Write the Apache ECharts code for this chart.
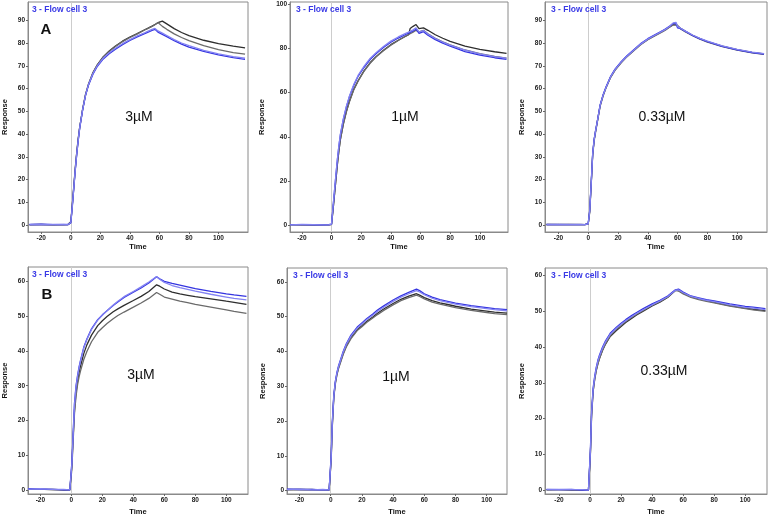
<!DOCTYPE html>
<html>
<head>
<meta charset="utf-8">
<script src="https://cdn.jsdelivr.net/npm/echarts@6/dist/echarts.min.js"></script>
<style>
  html, body { margin: 0; padding: 0; background: #fff; }
  #chart { width: 769px; height: 517px; }
</style>
</head>
<body>
<div id="chart"></div>
<script>
// time points (s) for each row of sensorgrams
const tTop = [-28, -20, -12, -5, -2, 0, 1, 2, 3, 4, 5, 6, 8, 10, 12, 15, 18, 22, 26, 30, 35, 40, 45, 50, 52, 53, 55, 57, 58, 59, 60, 62, 63, 65, 70, 75, 80, 90, 100, 110, 118];
const tBot = [-28, -20, -12, -5, -1, 0, 0.3, 1, 2, 3, 4, 5, 6, 8, 10, 13, 17, 20, 23, 27, 30, 34, 40, 45, 50, 55, 57, 60, 65, 70, 75, 80, 90, 100, 105, 113];

// tick labels
const xTicks = [-20, 0, 20, 40, 60, 80, 100];
const yTicks90 = [0, 10, 20, 30, 40, 50, 60, 70, 80, 90];
const yTicks100 = [0, 20, 40, 60, 80, 100];
const yTicks60 = [0, 10, 20, 30, 40, 50, 60];

// A, 3uM
const a1k1 = [0.2, 0.3, 0.1, 0.2, 0.3, 1.5, 9, 17, 25, 32, 38, 43, 51, 57.5, 62, 67, 70.5, 74, 76.5, 78.6, 80.8, 82.6, 84.1, 85.8, 86.4, 86.7, 87.4, 88.1, 88.5, 88.9, 89.2, 89.6, 89.5, 88.4, 86.3, 84.6, 83.2, 81.2, 79.7, 78.6, 77.9];
const a1k2 = [0.1, 0.2, 0.2, 0.1, 0.2, 1.2, 8.5, 16.5, 24.5, 31.5, 37.5, 42.8, 50.8, 57.3, 61.8, 66.8, 70.3, 73.8, 76.3, 78.4, 80.6, 82.4, 84, 85.7, 86.3, 86.6, 87.3, 88, 88.4, 89, 88.2, 87.3, 86.9, 86, 84, 82.4, 81, 78.8, 77.1, 75.8, 75.1];
const a1b1 = [0.3, 0.4, 0.2, 0.3, 0.2, 1, 8, 16, 24, 31, 37, 42.5, 50.5, 57, 61.5, 66.3, 69.8, 73, 75.3, 77.2, 79.3, 81.1, 82.7, 84.1, 84.7, 85, 85.5, 86, 86.2, 84.8, 84.2, 83.8, 83.5, 82.8, 81, 79.5, 78.2, 76.3, 74.8, 73.6, 72.8];
const a1b2 = [0.2, 0.3, 0.3, 0.2, 0.3, 1.2, 8.3, 16.3, 24.3, 31.3, 37.3, 42.7, 50.7, 57.2, 61.8, 66.6, 70.1, 73.4, 75.7, 77.6, 79.7, 81.5, 83.1, 84.5, 85.1, 85.4, 86, 86.4, 86.7, 85.3, 84.8, 84.3, 84, 83.3, 81.5, 80, 78.8, 76.8, 75.2, 74, 73.3];

// A, 1uM
const a2k1 = [0.3, 0.2, 0.3, 0.2, 0.2, 0.5, 7, 14, 21, 28, 34, 39, 46, 51.5, 56, 61.5, 65.5, 70, 73.5, 76.3, 79.2, 81.7, 83.7, 85.5, 86.2, 89, 90, 90.8, 91.2, 89, 88.3, 89.3, 89.2, 88.2, 86.2, 84.6, 83.2, 81, 79.6, 78.5, 77.8];
const a2k2 = [0.2, 0.3, 0.2, 0.3, 0.1, 0.4, 6.8, 13.8, 20.8, 27.8, 33.8, 38.8, 45.8, 51.3, 55.8, 61.3, 65.3, 69.8, 73.3, 76.1, 79, 81.5, 83.6, 85.6, 86.3, 86.6, 87.4, 88.2, 88.6, 87.5, 86.8, 88.2, 87.8, 86.6, 84.6, 83, 81.6, 79.3, 77.6, 76.4, 75.6];
const a2b1 = [0.3, 0.3, 0.2, 0.2, 0.3, 0.5, 8, 15.5, 23, 30, 36, 41, 48, 53.5, 58, 63.3, 67.5, 71.5, 75, 77.6, 80.4, 82.8, 84.7, 86.3, 86.9, 87.2, 87.9, 88.7, 89.2, 86.8, 86.4, 87.6, 87.3, 86, 84, 82.4, 81, 78.6, 77, 75.8, 75.1];
const a2b2 = [0.2, 0.4, 0.3, 0.2, 0.2, 0.6, 8.3, 15.8, 23.3, 30.3, 36.3, 41.3, 48.3, 53.8, 58.3, 63.7, 67.9, 72, 75.5, 78.1, 80.9, 83.3, 85.2, 86.8, 87.4, 87.7, 88.4, 89.3, 89.8, 87.5, 87, 88.1, 87.8, 86.5, 84.5, 82.9, 81.5, 79.2, 77.5, 76.3, 75.6];

// A, 0.33uM
const a3k1 = [0.3, 0.2, 0.3, 0.2, 0.3, 0.6, 6, 18, 31, 37.5, 41.5, 45, 52.5, 57, 60.5, 65, 68.2, 71.4, 74.1, 76.4, 79.3, 81.6, 83.4, 85.2, 85.9, 86.3, 87.3, 88.1, 88.6, 88.2, 87.4, 86.4, 86, 85.2, 83.4, 81.9, 80.6, 78.6, 77.1, 75.9, 75.2];
const a3k2 = [0.2, 0.3, 0.2, 0.3, 0.2, 0.5, 5.5, 17.5, 30.5, 37, 41, 44.8, 52.2, 56.7, 60.3, 64.8, 68, 71.2, 74, 76.3, 79.1, 81.4, 83.2, 85, 85.7, 86.1, 87.1, 87.9, 88.3, 88, 87.2, 86.2, 85.8, 85, 83.2, 81.7, 80.4, 78.4, 76.9, 75.7, 75];
const a3b1 = [0.3, 0.3, 0.2, 0.2, 0.3, 0.7, 6.5, 18.5, 31.5, 37.8, 41.7, 45.3, 52.8, 57.3, 60.8, 65.3, 68.5, 71.7, 74.4, 76.7, 79.6, 81.9, 83.7, 85.5, 86.2, 86.6, 87.6, 88.6, 89.3, 88.4, 86.6, 86.3, 85.9, 85.2, 83.3, 81.8, 80.6, 78.5, 77, 75.8, 75.1];
const a3b2 = [0.2, 0.2, 0.3, 0.3, 0.2, 0.6, 6.2, 18.2, 31.2, 37.6, 41.6, 45.1, 52.6, 57.1, 60.6, 65.1, 68.3, 71.5, 74.2, 76.5, 79.4, 81.7, 83.5, 85.3, 86, 86.4, 87.5, 88.8, 89.6, 89, 87.2, 86.5, 86, 85.3, 83.5, 82, 80.8, 78.7, 77.2, 76, 75.3];

// B, 3uM
const b1k1 = [0.4, 0.3, 0.3, 0.2, 0.1, 0, 7, 14, 23, 28, 31.3, 33.8, 35.8, 39.2, 41.7, 44.5, 47.2, 48.6, 49.8, 51.2, 52, 53, 54.4, 55.6, 57, 58.9, 58.5, 57.7, 56.8, 56.3, 55.9, 55.5, 54.9, 54.2, 53.9, 53.3];
const b1k2 = [0.3, 0.4, 0.2, 0.2, 0.2, 0, 6, 13, 22, 27, 30.3, 32.6, 34.4, 37.5, 39.8, 42.6, 45.3, 46.6, 47.8, 49.2, 50.1, 51.1, 52.5, 53.7, 55, 56.7, 56.2, 55.4, 54.8, 54.2, 53.8, 53.3, 52.5, 51.7, 51.3, 50.7];
const b1b1 = [0.5, 0.4, 0.3, 0.2, 0.2, 0.2, 8, 15, 25, 30, 33, 35.5, 37.5, 41, 43.4, 46.3, 48.9, 50.3, 51.5, 53, 54, 55.3, 56.8, 58, 59.4, 61.2, 60.6, 59.9, 59.3, 58.8, 58.3, 57.8, 57, 56.3, 56, 55.6];
const b1b2 = [0.4, 0.5, 0.3, 0.3, 0.2, 0.2, 7.5, 14.5, 24.5, 29.6, 32.7, 35.2, 37.2, 40.8, 43.2, 46.1, 48.8, 50.2, 51.5, 53.1, 54.2, 55.5, 57, 58.3, 59.7, 61.3, 60.5, 59.6, 58.7, 58.1, 57.6, 57.1, 56.2, 55.4, 55, 54.6];

// B, 1uM
const b2k1 = [0.3, 0.3, 0.2, 0.2, 0.1, 0.1, 9, 18.5, 27, 31, 33.5, 35.3, 36.7, 39.4, 41.6, 44, 46.3, 47.4, 48.6, 49.9, 51, 52.2, 53.8, 55, 55.9, 56.6, 56.2, 55.5, 54.6, 54, 53.5, 53, 52.2, 51.6, 51.3, 51];
const b2k2 = [0.2, 0.3, 0.3, 0.1, 0.2, 0.1, 8.5, 18, 26.6, 30.7, 33.2, 35, 36.4, 39.1, 41.3, 43.7, 46, 47.1, 48.3, 49.6, 50.6, 51.8, 53.4, 54.6, 55.5, 56.2, 55.8, 55.1, 54.2, 53.6, 53.1, 52.6, 51.8, 51.2, 50.9, 50.6];
const b2b1 = [0.4, 0.3, 0.3, 0.2, 0.2, 0.3, 10, 19.5, 27.5, 31.5, 34, 35.8, 37.2, 40, 42.2, 44.7, 47, 48.2, 49.4, 50.8, 51.9, 53.1, 54.8, 56, 57, 57.9, 57.5, 56.6, 55.6, 54.9, 54.4, 53.9, 53.2, 52.6, 52.3, 52];
const b2b2 = [0.3, 0.4, 0.2, 0.3, 0.2, 0.2, 9.5, 19, 27.2, 31.3, 33.8, 35.6, 37, 39.8, 42, 44.4, 46.7, 47.9, 49.1, 50.4, 51.5, 52.7, 54.4, 55.6, 56.6, 57.5, 57.1, 56.3, 55.3, 54.6, 54.1, 53.6, 52.9, 52.3, 52, 51.7];

// B, 0.33uM
const b3k1 = [0.2, 0.2, 0.1, 0.1, 0.1, 0, 11, 21, 27.7, 31, 33.5, 35.3, 36.7, 39, 40.8, 42.9, 44.6, 45.7, 46.8, 48, 48.9, 49.9, 51.4, 52.5, 53.8, 55.7, 55.7, 55, 54, 53.4, 52.9, 52.4, 51.5, 50.8, 50.5, 50.1];
const b3k2 = [0.1, 0.2, 0.2, 0.1, 0.1, 0, 10.5, 20.5, 27.5, 30.8, 33.3, 35.1, 36.6, 39, 40.9, 43.1, 44.9, 46, 47.1, 48.3, 49.1, 50.1, 51.6, 52.6, 53.9, 55.8, 55.6, 54.8, 53.8, 53.2, 52.7, 52.3, 51.4, 50.7, 50.3, 49.9];
const b3b1 = [0.3, 0.2, 0.3, 0.1, 0.1, 0.1, 12, 22, 28.5, 31.8, 34.3, 36.2, 37.6, 39.9, 41.7, 43.8, 45.5, 46.6, 47.6, 48.8, 49.6, 50.6, 52, 53, 54.2, 55.9, 56.1, 55.3, 54.2, 53.7, 53.2, 52.8, 52, 51.3, 51.1, 50.7];
const b3b2 = [0.2, 0.3, 0.2, 0.2, 0.1, 0.1, 11.5, 21.5, 28.2, 31.5, 34, 35.9, 37.3, 39.6, 41.4, 43.5, 45.2, 46.3, 47.3, 48.5, 49.3, 50.3, 51.7, 52.8, 54, 55.8, 55.9, 55.1, 54.1, 53.5, 53, 52.6, 51.7, 51, 50.8, 50.4];

const concLabels = ['3µM', '1µM', '0.33µM', '3µM', '1µM', '0.33µM'];
const panelLetters = ['A', 'B'];
const flowLabel = '3 - Flow cell 3';

// panel frames (px) and axis extents
const panels = [
  { t: tTop, lines: [a1k1, a1k2, a1b1, a1b2], yTicks: yTicks90, left: 26, top: 2, width: 222, height: 230, xmin: -29, xmax: 120, ymin: -3, ymax: 98, yGap: 19, xGap: 11, conc: [139, 117] },
  { t: tTop, lines: [a2k1, a2k2, a2b1, a2b2], yTicks: yTicks100, left: 290, top: 2, width: 218, height: 230, xmin: -28, xmax: 119, ymin: -3, ymax: 101, yGap: 24, xGap: 11, conc: [405, 117] },
  { t: tTop, lines: [a3k1, a3k2, a3b1, a3b2], yTicks: yTicks90, left: 545, top: 2, width: 222, height: 230, xmin: -29, xmax: 120, ymin: -3, ymax: 98, yGap: 19, xGap: 11, conc: [662, 117] },
  { t: tBot, lines: [b1k1, b1k2, b1b1, b1b2], yTicks: yTicks60, left: 26, top: 267, width: 222, height: 228, xmin: -28, xmax: 114, ymin: -1, ymax: 64, yGap: 19, xGap: 14, conc: [141, 375] },
  { t: tBot, lines: [b2k1, b2k2, b2b1, b2b2], yTicks: yTicks60, left: 287, top: 268, width: 220, height: 227, xmin: -28, xmax: 113, ymin: -1, ymax: 64, yGap: 20, xGap: 14, conc: [396, 377] },
  { t: tBot, lines: [b3k1, b3k2, b3b1, b3b2], yTicks: yTicks60, left: 545, top: 268, width: 222, height: 227, xmin: -29, xmax: 114, ymin: -1, ymax: 62, yGap: 19, xGap: 14, conc: [664, 371] },
];

const lineColors = ['#2e2e2e', '#6a6a6a', '#3434e0', '#8282f2'];
const FONT = 'Liberation Sans';

const grid = [], xAxis = [], yAxis = [], series = [], graphic = [];

panels.forEach((p, i) => {
  grid.push({
    left: p.left, top: p.top, width: p.width, height: p.height,
    show: true, borderColor: '#8a8a8a', borderWidth: 1, backgroundColor: '#fff',
  });
  xAxis.push({
    type: 'value', gridIndex: i, min: p.xmin, max: p.xmax,
    name: 'Time', nameLocation: 'middle', nameGap: p.xGap,
    nameTextStyle: { fontFamily: FONT, fontWeight: 'bold', fontSize: 7.5, color: '#111' },
    axisLine: { show: true, onZero: false, lineStyle: { color: '#8a8a8a' } },
    axisTick: { show: true, length: 2, customValues: xTicks, lineStyle: { color: '#666' } },
    axisLabel: { customValues: xTicks, margin: 3, fontFamily: FONT, fontWeight: 'bold', fontSize: 6.5, color: '#222' },
    splitLine: { show: false },
  });
  yAxis.push({
    type: 'value', gridIndex: i, min: p.ymin, max: p.ymax,
    name: 'Response', nameLocation: 'middle', nameRotate: 90, nameGap: p.yGap,
    nameTextStyle: { fontFamily: FONT, fontWeight: 'bold', fontSize: 7.5, color: '#111' },
    axisLine: { show: true, onZero: false, lineStyle: { color: '#8a8a8a' } },
    axisTick: { show: true, length: 2, customValues: p.yTicks, lineStyle: { color: '#666' } },
    axisLabel: { customValues: p.yTicks, margin: 3, fontFamily: FONT, fontWeight: 'bold', fontSize: 6.5, color: '#222' },
    splitLine: { show: false },
  });
  p.lines.forEach((vals, k) => {
    const s = {
      type: 'line', xAxisIndex: i, yAxisIndex: i,
      data: p.t.map((t, j) => [t, vals[j]]),
      symbol: 'none', smooth: false, silent: true,
      lineStyle: { color: lineColors[k], width: 1.3 },
      z: 3 + k,
    };
    if (k === 0) {
      s.markLine = {
        silent: true, symbol: 'none', label: { show: false },
        lineStyle: { color: '#cdcdcd', width: 1, type: 'solid' },
        data: [{ xAxis: 0 }],
        z: 1,
      };
    }
    series.push(s);
  });
  graphic.push({
    type: 'text', left: p.left + 6, top: p.top + 3, z: 100,
    style: { text: flowLabel, font: 'bold 8.5px "Liberation Sans Narrow", "Liberation Sans"', fill: '#3a3ae6' },
  });
  graphic.push({
    type: 'text', x: p.conc[0], y: p.conc[1], z: 100,
    style: { text: concLabels[i], font: '14px "Liberation Sans"', fill: '#111', textAlign: 'center', textVerticalAlign: 'middle' },
  });
});

graphic.push({
  type: 'text', x: 46, y: 30, z: 100,
  style: { text: panelLetters[0], font: 'bold 15px "Liberation Sans"', fill: '#111', textAlign: 'center', textVerticalAlign: 'middle' },
});
graphic.push({
  type: 'text', x: 47, y: 295, z: 100,
  style: { text: panelLetters[1], font: 'bold 15px "Liberation Sans"', fill: '#111', textAlign: 'center', textVerticalAlign: 'middle' },
});

const chart = echarts.init(document.getElementById('chart'), null, { renderer: 'canvas' });
chart.setOption({
  animation: false,
  backgroundColor: '#fff',
  grid, xAxis, yAxis, series, graphic,
});
</script>
</body>
</html>
